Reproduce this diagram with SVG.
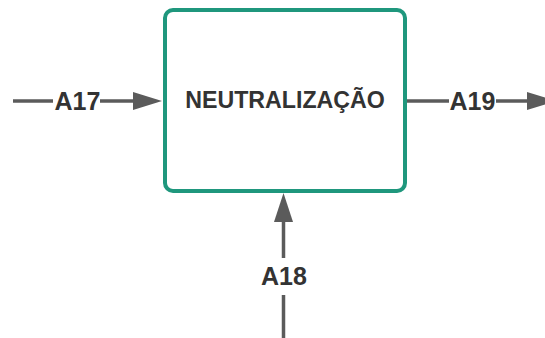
<svg xmlns="http://www.w3.org/2000/svg" width="545" height="338" viewBox="0 0 545 338">
<style>
.ln{stroke:#5b5b5b;stroke-width:3.5;fill:none}
.ah{fill:#5b5b5b}
.lbl{font-family:"Liberation Sans",Arial,sans-serif;font-weight:bold;fill:#333333}
</style>
<rect width="545" height="338" fill="#ffffff"/>
<g id="node-neutralizacao">
<rect x="165" y="10" width="240" height="181" rx="8" ry="8" fill="#ffffff" stroke="#1f977d" stroke-width="4"/>
<text class="lbl" x="285" y="107.5" font-size="23.2" text-anchor="middle">NEUTRALIZAÇÃO</text>
</g>
<g id="connectors">
<g id="edge-a17">
<line class="ln" x1="13" y1="101" x2="53" y2="101"/>
<line class="ln" x1="100" y1="101" x2="135" y2="101"/>
<polygon class="ah" points="133,92 162,101 133,110"/>
<text class="lbl" x="77.5" y="109.5" font-size="25" text-anchor="middle">A17</text>
</g>
<g id="edge-a19">
<line class="ln" x1="407" y1="101" x2="449" y2="101"/>
<line class="ln" x1="496" y1="101" x2="529" y2="101"/>
<polygon class="ah" points="527,92 556,101 527,110"/>
<text class="lbl" x="472.5" y="109.5" font-size="25" text-anchor="middle">A19</text>
</g>
<g id="edge-a18">
<line class="ln" x1="283.5" y1="338" x2="283.5" y2="295"/>
<line class="ln" x1="283.5" y1="258" x2="283.5" y2="220"/>
<polygon class="ah" points="274,222 283.5,193 293,222"/>
<text class="lbl" x="284" y="285" font-size="25" text-anchor="middle">A18</text>
</g>
</g>
</svg>
